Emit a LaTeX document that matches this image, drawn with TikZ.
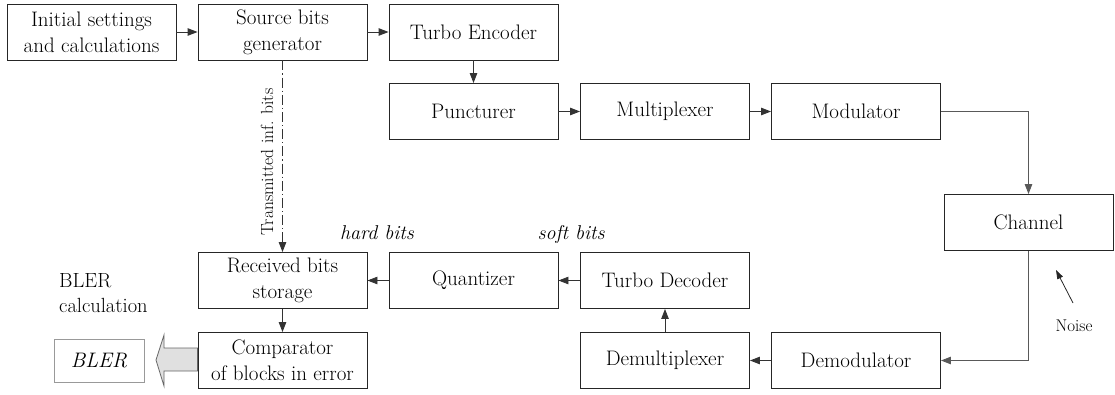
\documentclass[tikz,border=0pt]{standalone}
\usetikzlibrary{arrows.meta}
\begin{document}
\begin{tikzpicture}[x=1pt,y=-1pt,
  blk/.style={draw=black!85, line width=0.9pt, minimum width=169pt, minimum height=56pt,
              inner sep=0pt, align=center, font=\fontsize{21}{26}\selectfont},
  conn/.style={draw=black!80, line width=0.9pt, -{Triangle[length=10pt,width=7.5pt]}},
  lbl/.style={inner sep=0pt, font=\fontsize{20.5}{25}\selectfont},
  ilbl/.style={inner sep=0pt, font=\itshape\fontsize{20}{25}\selectfont},
]
\useasboundingbox (0,0) rectangle (1115,394);

% blocks
\node[blk] (init)  at (91.5,32)    {Initial settings\\and calculations};
\node[blk] (src)   at (282.5,32)   {Source bits\\generator};
\node[blk] (te)    at (473.5,32)   {Turbo Encoder};
\node[blk] (punc)  at (473.5,111.5) {Puncturer};
\node[blk] (mux)   at (665,111.5)  {Multiplexer};
\node[blk] (mod)   at (856,111.5)  {Modulator};
\node[blk] (chan)  at (1028.5,222.5) {Channel};
\node[blk] (recv)  at (282.5,280.5) {Received bits\\storage};
\node[blk] (quant) at (473.5,280.5) {Quantizer};
\node[blk] (tdec)  at (665,280.5)  {Turbo Decoder};
\node[blk] (comp)  at (282.5,360.5) {Comparator\\of blocks in error};
\node[blk] (demux) at (665,360.5)  {Demultiplexer};
\node[blk] (demod) at (856,360.5)  {Demodulator};

% BLER output box
\node[draw=black!40, line width=0.9pt, minimum width=90pt, minimum height=43pt, inner sep=0pt,
      font=\itshape\fontsize{21}{26}\selectfont] (bler) at (99,360.5) {BLER};

% connectors
\draw[conn] (init) -- (src);
\draw[conn] (src) -- (te);
\draw[conn] (te) -- (punc);
\draw[conn] (punc) -- (mux);
\draw[conn] (mux) -- (mod);
\draw[conn, draw=black!65] (mod.east) -| (chan.north);
\draw[conn, draw=black!65] (chan.south) |- (demod.east);
\draw[conn] (demod) -- (demux);
\draw[conn] (demux) -- (tdec);
\draw[conn] (tdec) -- (quant);
\draw[conn] (quant) -- (recv);
\draw[conn] (recv) -- (comp);
\draw[conn, dash pattern=on 10pt off 3pt on 1.2pt off 3pt] (src.south) -- (recv.north);

% labels
\node[inner sep=0pt, rotate=90, font=\fontsize{17.5}{22}\selectfont] (tlab) at (267,162) {Transmitted inf. bits};
\node[ilbl, anchor=base] (hard) at (377,239) {hard bits};
\node[ilbl, anchor=base] (soft) at (571,239) {soft bits};
\node[lbl, anchor=base west] (bl1) at (59,287) {BLER};
\node[lbl, anchor=base west] (bl2) at (59,312) {calculation};
\node[inner sep=0pt, anchor=base, font=\fontsize{17}{22}\selectfont] (noise) at (1074,331) {Noise};

% noise arrow
\coordinate (nstart) at (1073,303);
\coordinate (ntip) at (1056,270);
\draw[line width=0.8pt, draw=black!85, -{Triangle[length=9pt,width=6pt]}] (nstart) -- (ntip);

% big hollow arrow from comparator to BLER box
\draw[line width=0.8pt, draw=black!60, fill=black!12]
  (comp.west |- 0,348) -- (164,348) -- (164,335) -- (156,360) -- (164,386) -- (164,371)
  -- (comp.west |- 0,371) -- cycle;
\end{tikzpicture}
\end{document}
